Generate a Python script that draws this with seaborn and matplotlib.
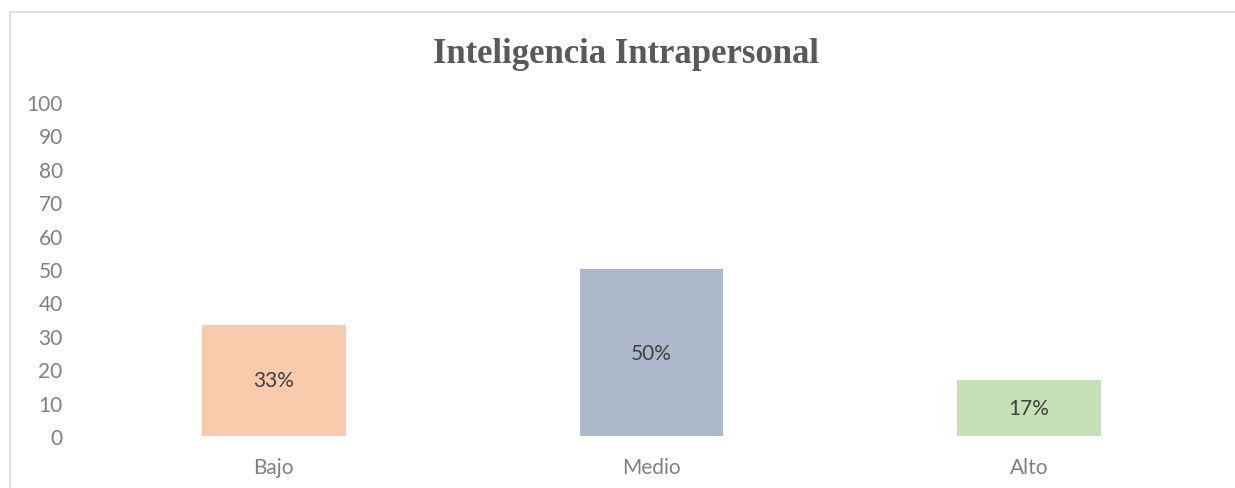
import matplotlib
matplotlib.use("Agg")
import matplotlib.pyplot as plt
from matplotlib.lines import Line2D
import seaborn as sns
import pandas as pd

# chart data
categorias = ["Bajo", "Medio", "Alto"]
valores = [33.33, 50.0, 16.67]
etiquetas = ["33%", "50%", "17%"]
colores = ["#F8CBAD", "#ADB9CA", "#C5E0B4"]
y_ticks = list(range(0, 101, 10))

sns.set_theme(style="white")
plt.rcParams["font.family"] = ["Lato", "DejaVu Sans"]

df = pd.DataFrame({"categoria": categorias, "valor": valores})

fig = plt.figure(figsize=(12.35, 4.89), dpi=100)
ax = fig.add_axes([0.0688, 0.1063, 0.9174, 0.6831])

sns.barplot(data=df, x="categoria", y="valor", hue="categoria",
            palette=colores, width=0.38, ax=ax, legend=False, saturation=1,
            linewidth=0)

ax.set_ylim(0, 100)
ax.set_xlim(-0.5, 2.5)
ax.set_yticks(y_ticks)
ax.set_xlabel("")
ax.set_ylabel("")
for s in ax.spines.values():
    s.set_visible(False)
ax.tick_params(axis="y", length=0, pad=16, labelsize=15, labelcolor="#808080")
ax.tick_params(axis="x", length=0, pad=15, labelsize=15, labelcolor="#808080")

# data labels in the middle of each bar
for i, (v, t) in enumerate(zip(valores, etiquetas)):
    ax.text(i, v / 2, t, ha="center", va="center", fontsize=15, color="#404040")

fig.text(0.507, 0.889, "Inteligencia Intrapersonal", ha="center", va="center",
         fontsize=25, fontweight="bold", color="#595959", family="Liberation Serif")

# chart area border (only left and top visible)
fig.add_artist(Line2D([0.0077, 0.0077], [0, 0.973], transform=fig.transFigure,
                      color="#D9D9D9", lw=1.2))
fig.add_artist(Line2D([0.0077, 1.0], [0.973, 0.973], transform=fig.transFigure,
                      color="#D9D9D9", lw=1.2))

fig.savefig("out.png", dpi=100, facecolor="white")
